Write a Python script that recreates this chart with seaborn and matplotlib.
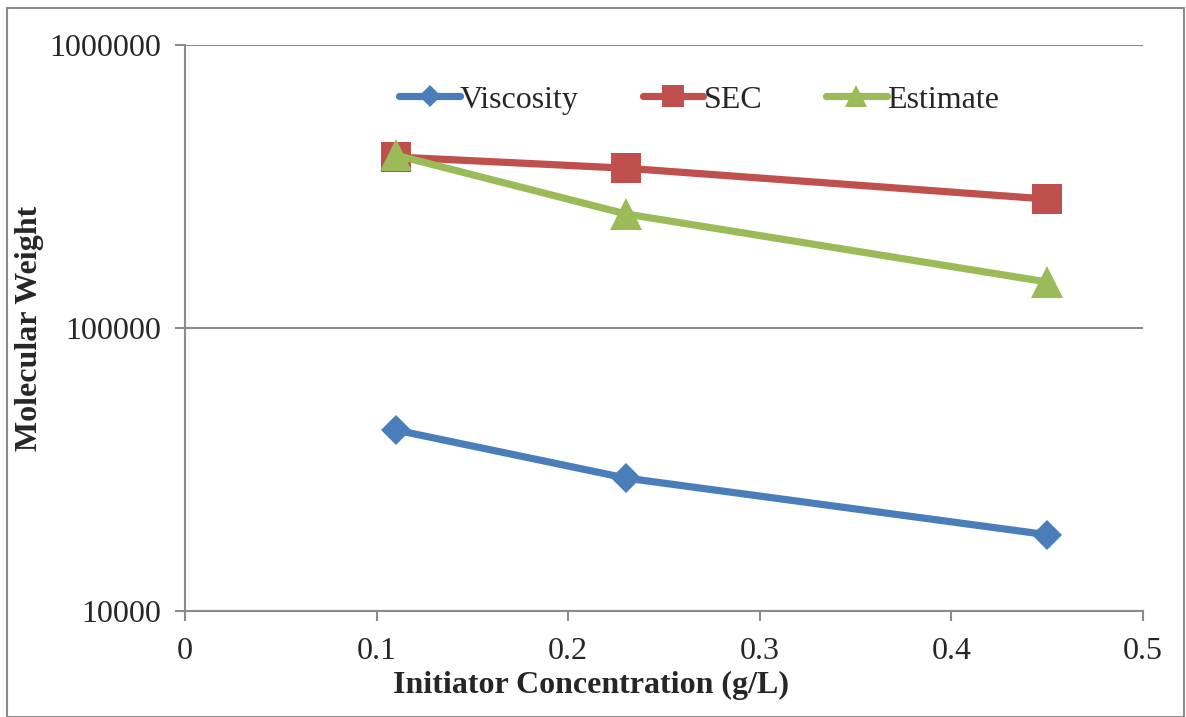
import matplotlib
matplotlib.use("Agg")
import matplotlib.pyplot as plt
import seaborn as sns
import pandas as pd
from matplotlib.patches import Rectangle
from matplotlib.ticker import FixedLocator, FuncFormatter, NullLocator

concentration = [0.11, 0.23, 0.45]
viscosity = [43600, 29500, 18600]
sec = [402000, 367000, 285500]
estimate = [408000, 253000, 145400]
series_names = ["Viscosity", "SEC", "Estimate"]
x_ticks = [0, 0.1, 0.2, 0.3, 0.4, 0.5]
y_ticks = [10000, 100000, 1000000]

df = pd.DataFrame({
    "x": concentration * 3,
    "y": viscosity + sec + estimate,
    "series": sum([[n] * len(concentration) for n in series_names], []),
})

sns.set_style("white")
plt.rcParams["font.family"] = ["Liberation Serif", "DejaVu Serif"]

fig = plt.figure(figsize=(11.86, 7.17), dpi=100)
ax = fig.add_axes([185/1186, 1-611/717, (1143-185)/1186, (611-45)/717])

palette = {"Viscosity": "#4A7EBB", "SEC": "#C0504D", "Estimate": "#9BBB59"}
markers = {"Viscosity": "D", "SEC": "s", "Estimate": "^"}
msize = {"D": 15.5, "s": 22, "^": 23}
sns.lineplot(data=df, x="x", y="y", hue="series", style="series",
             palette=palette, markers=markers, dashes=False,
             linewidth=5.2, markersize=17, markeredgewidth=0,
             ax=ax, legend=True, zorder=3)
for ln in ax.lines:
    m = ln.get_marker()
    if m in msize:
        ln.set_markersize(msize[m])

ax.set_yscale("log")
ax.set_xlim(0, 0.5)
ax.set_ylim(10000, 1000000)
ax.xaxis.set_major_locator(FixedLocator(x_ticks))
ax.xaxis.set_major_formatter(FuncFormatter(lambda v, p: f"{v:g}"))
ax.yaxis.set_major_locator(FixedLocator(y_ticks))
ax.yaxis.set_minor_locator(NullLocator())
ax.yaxis.set_major_formatter(FuncFormatter(lambda v, p: f"{int(round(v))}"))
ax.grid(axis="y", color="#8C8C8C", linewidth=1.5)
ax.grid(axis="x", visible=False)
for s in ["top", "right"]:
    ax.spines[s].set_visible(False)
for s in ["left", "bottom"]:
    ax.spines[s].set_color("#8C8C8C")
    ax.spines[s].set_linewidth(1.5)
ax.tick_params(axis="both", which="major", direction="out", length=7, width=1.5,
               color="#8C8C8C", labelsize=23, left=True, bottom=True)
ax.tick_params(axis="x", pad=12)
ax.tick_params(axis="y", pad=10)
ax.set_xlabel("Initiator Concentration (g/L)", fontsize=23, fontweight="bold")
ax.xaxis.set_label_coords((591 - 185) / 958, -(685 - 611) / 566)
ax.xaxis.label.set_va("center")
ax.set_ylabel("Molecular Weight", fontsize=23, fontweight="bold")
ax.yaxis.set_label_coords(-(185 - 30) / 958, (611 - 328) / 566)
ax.yaxis.label.set_va("center")

handles, labels = ax.get_legend_handles_labels()
for h in handles:
    m = h.get_marker()
    if m in msize:
        h.set_markersize(msize[m])
ax.legend(handles, labels, loc="center", bbox_to_anchor=(0.5365, 0.903), ncol=3,
          frameon=False, fontsize=23, handlelength=1.9, handletextpad=0.0,
          columnspacing=2.0, markerscale=0.7)

fig.patches.append(Rectangle((7/1186, 0.0), 1 - 7/1186 - 2/1186, 1 - 8/717,
                             transform=fig.transFigure, fill=False,
                             edgecolor="#8C8C8C", linewidth=1.5))

fig.savefig("out.png", dpi=100)
